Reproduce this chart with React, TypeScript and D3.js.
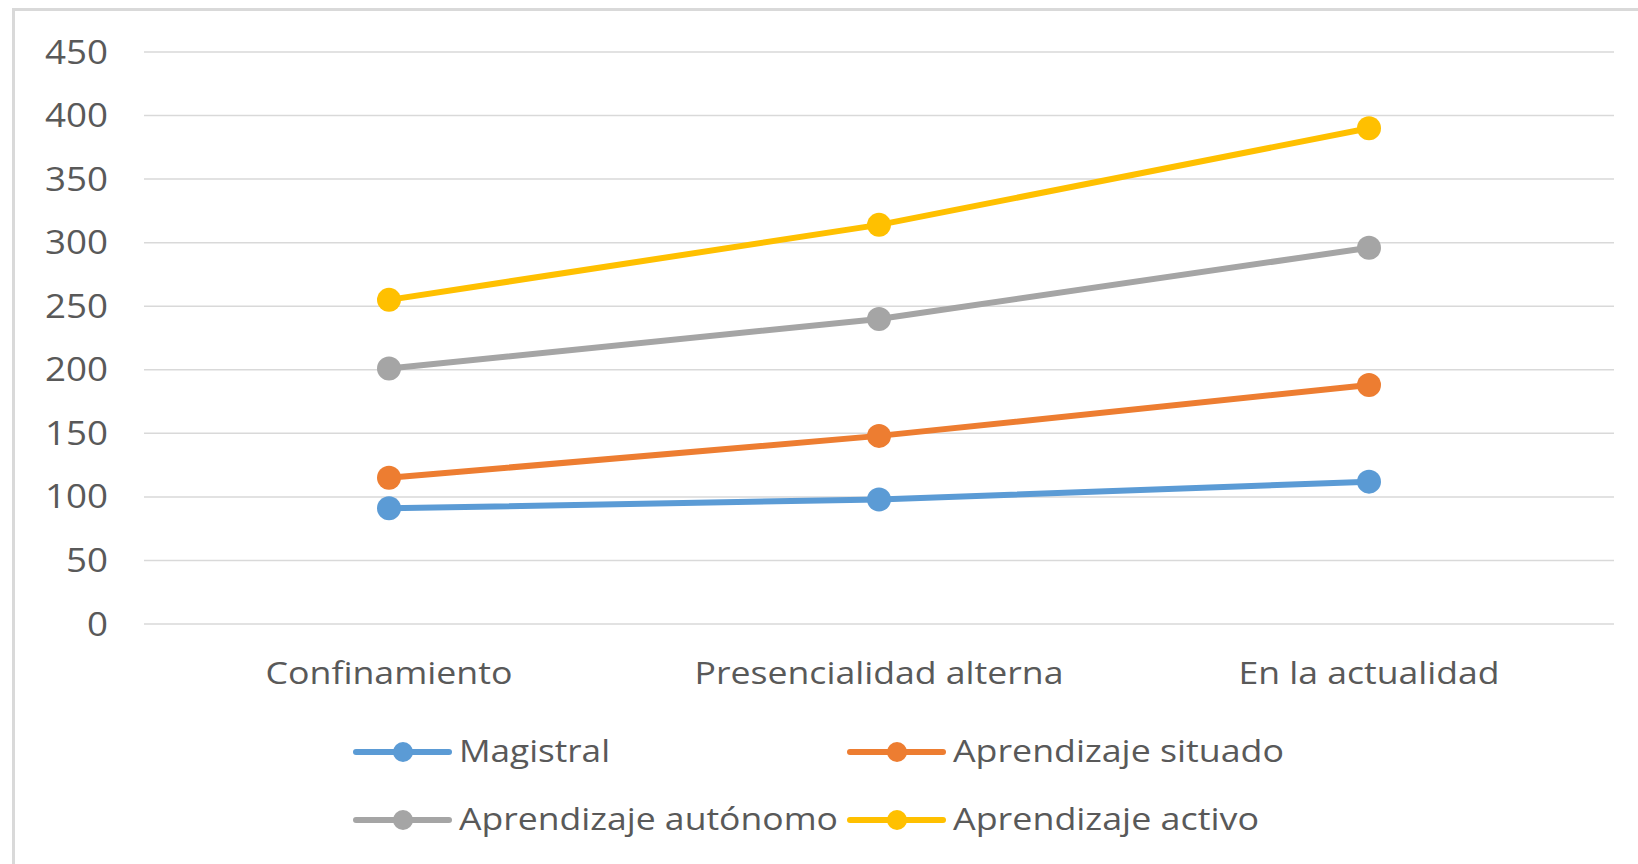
import * as d3 from "d3";
import { useEffect, useRef } from "react";

const categories = ["Confinamiento", "Presencialidad alterna", "En la actualidad"];
const seriesNames = ["Magistral", "Aprendizaje situado", "Aprendizaje autónomo", "Aprendizaje activo"];
const magistral = [91, 98, 112];
const situado = [115, 148, 188];
const autonomo = [201, 240, 296];
const activo = [255, 314, 390];
const yTicks = [0, 50, 100, 150, 200, 250, 300, 350, 400, 450];

const colors = ["#5B9BD5", "#ED7D31", "#A5A5A5", "#FFC000"];

export default function App() {
  const ref = useRef<SVGSVGElement>(null);

  useEffect(() => {
    if (!ref.current) return;
    const svg = d3.select(ref.current);
    svg.selectAll("*").remove();

    const width = 1638;
    const height = 864;
    const font = "'Open Sans', 'DejaVu Sans', sans-serif";
    const textColor = "#595959";

    // chart frame (cut off on right and bottom in the reference)
    svg
      .append("rect")
      .attr("x", 13.5)
      .attr("y", 9.5)
      .attr("width", width + 20)
      .attr("height", height + 20)
      .attr("fill", "white")
      .attr("stroke", "#d9d9d9")
      .attr("stroke-width", 3);

    const x = d3.scaleBand().domain(categories).range([144, 1614]);
    const y = d3.scaleLinear().domain([0, 450]).range([624, 52]);

    // gridlines
    svg
      .append("g")
      .selectAll("line")
      .data(yTicks)
      .join("line")
      .attr("x1", 144)
      .attr("x2", 1614)
      .attr("y1", (d) => y(d))
      .attr("y2", (d) => y(d))
      .attr("stroke", "#d9d9d9")
      .attr("stroke-width", 1.5);

    // y tick labels
    svg
      .append("g")
      .selectAll("text")
      .data(yTicks)
      .join("text")
      .attr("x", 108)
      .attr("y", (d) => y(d))
      .attr("dy", "0.36em")
      .attr("text-anchor", "end")
      .attr("font-family", font)
      .attr("font-size", 32)
      .attr("fill", textColor)
      .attr("textLength", (d) => String(d).length * 21)
      .attr("lengthAdjust", "spacingAndGlyphs")
      .text((d) => d);

    // category labels
    const catWidths = [247, 369, 261];
    svg
      .append("g")
      .selectAll("text")
      .data(categories)
      .join("text")
      .attr("x", (d) => x(d)! + x.bandwidth() / 2)
      .attr("y", 684)
      .attr("text-anchor", "middle")
      .attr("font-family", font)
      .attr("font-size", 31)
      .attr("fill", textColor)
      .attr("textLength", (d, i) => catWidths[i])
      .attr("lengthAdjust", "spacingAndGlyphs")
      .text((d) => d);

    const allSeries = [magistral, situado, autonomo, activo];
    const line = d3
      .line<number>()
      .x((d, i) => x(categories[i])! + x.bandwidth() / 2)
      .y((d) => y(d));

    allSeries.forEach((values, s) => {
      const g = svg.append("g");
      g.append("path")
        .attr("d", line(values))
        .attr("fill", "none")
        .attr("stroke", colors[s])
        .attr("stroke-width", 6)
        .attr("stroke-linejoin", "round")
        .attr("stroke-linecap", "round");
      g.selectAll("circle")
        .data(values)
        .join("circle")
        .attr("cx", (d, i) => x(categories[i])! + x.bandwidth() / 2)
        .attr("cy", (d) => y(d))
        .attr("r", 12)
        .attr("fill", colors[s]);
    });

    // legend
    const legendX = [356, 850];
    const legendY = [752, 820];
    const legendTextW = [151, 331, 379, 306];
    seriesNames.forEach((name, i) => {
      const col = i % 2;
      const row = Math.floor(i / 2);
      const lx = legendX[col];
      const ly = legendY[row];
      const g = svg.append("g");
      g.append("line")
        .attr("x1", lx)
        .attr("x2", lx + 93)
        .attr("y1", ly)
        .attr("y2", ly)
        .attr("stroke", colors[i])
        .attr("stroke-width", 6)
        .attr("stroke-linecap", "round");
      g.append("circle")
        .attr("cx", lx + 47)
        .attr("cy", ly)
        .attr("r", 10)
        .attr("fill", colors[i]);
      g.append("text")
        .attr("x", lx + 103)
        .attr("y", ly + 10)
        .attr("font-family", font)
        .attr("font-size", 31)
        .attr("fill", textColor)
        .attr("textLength", legendTextW[i])
        .attr("lengthAdjust", "spacingAndGlyphs")
        .text(name);
    });
  }, []);

  return (
    <svg
      ref={ref}
      width={1638}
      height={864}
      style={{ position: "fixed", left: 0, top: 0, background: "white" }}
    />
  );
}
